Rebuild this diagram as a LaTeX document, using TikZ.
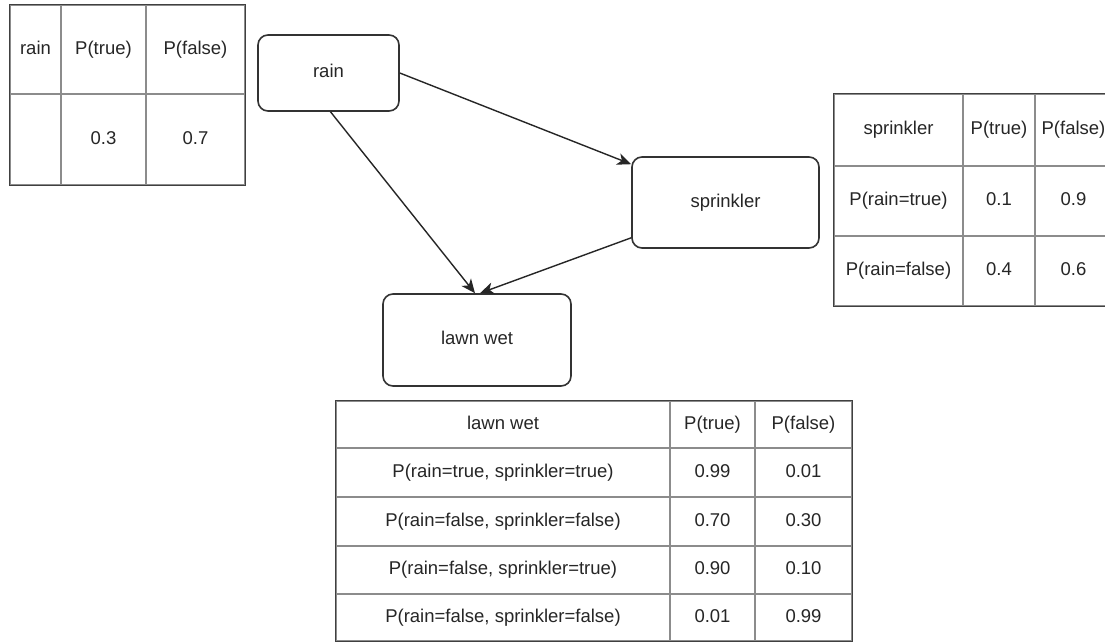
\documentclass[tikz,border=0pt]{standalone}
\usepackage{fontspec}
\setmainfont{Liberation Sans}
\usetikzlibrary{arrows.meta,calc}
\newcommand\tcell[6]{\node[cell, minimum width={#4-#2}, minimum height={#5-#3}] (#1) at ({(#2+#4)/2},{(#3+#5)/2}) {#6};}
\begin{document}
\begin{tikzpicture}[x=1pt,y=-1pt,
  every node/.style={font=\fontsize{18.5}{22}\selectfont, text=black!85, text height=13.5pt, text depth=4pt},
  vbox/.style={draw=black!80, line width=1.6pt, rounded corners=10pt, inner sep=0pt, fill=white},
  cell/.style={draw=black!45, line width=1.2pt, inner sep=0pt},
  frame/.style={draw=black!75, line width=1.6pt},
  conn/.style={draw=black!85, line width=1.4pt, -{Stealth[length=14pt,width=12pt,inset=4pt]}}]
\clip (0,0) rectangle (1105,642);
\fill[white] (0,0) rectangle (1105,642);

% rain table
\tcell{r11}{10}{5}{61}{94}{rain}
\tcell{r12}{61}{5}{146}{94}{P(true)}
\tcell{r13}{146}{5}{245}{94}{P(false)}
\tcell{r21}{10}{94}{61}{185}{}
\tcell{r22}{61}{94}{146}{185}{0.3}
\tcell{r23}{146}{94}{245}{185}{0.7}
\draw[frame] (r11.north west) rectangle (r23.south east);

% sprinkler table
\tcell{s11}{834}{94}{963}{166}{sprinkler}
\tcell{s12}{963}{94}{1035}{166}{P(true)}
\tcell{s13}{1035}{94}{1112}{166}{P(false)}
\tcell{s21}{834}{166}{963}{236}{P(rain=true)}
\tcell{s22}{963}{166}{1035}{236}{0.1}
\tcell{s23}{1035}{166}{1112}{236}{0.9}
\tcell{s31}{834}{236}{963}{306}{P(rain=false)}
\tcell{s32}{963}{236}{1035}{306}{0.4}
\tcell{s33}{1035}{236}{1112}{306}{0.6}
\draw[frame] (s11.north west) rectangle (s33.south east);

% lawn wet table
\tcell{l11}{336}{401}{670}{448}{lawn wet}
\tcell{l12}{670}{401}{755}{448}{P(true)}
\tcell{l13}{755}{401}{852}{448}{P(false)}
\tcell{l21}{336}{448}{670}{497}{P(rain=true, sprinkler=true)}
\tcell{l22}{670}{448}{755}{497}{0.99}
\tcell{l23}{755}{448}{852}{497}{0.01}
\tcell{l31}{336}{497}{670}{546}{P(rain=false, sprinkler=false)}
\tcell{l32}{670}{497}{755}{546}{0.70}
\tcell{l33}{755}{497}{852}{546}{0.30}
\tcell{l41}{336}{546}{670}{594}{P(rain=false, sprinkler=true)}
\tcell{l42}{670}{546}{755}{594}{0.90}
\tcell{l43}{755}{546}{852}{594}{0.10}
\tcell{l51}{336}{594}{670}{641}{P(rain=false, sprinkler=false)}
\tcell{l52}{670}{594}{755}{641}{0.01}
\tcell{l53}{755}{594}{852}{641}{0.99}
\draw[frame] (l11.north west) rectangle (l53.south east);

% graph nodes
\node[vbox, minimum width=141, minimum height=76] (rain) at (328.5,73) {rain};
\node[vbox, minimum width=187, minimum height=91] (sprinkler) at (725.5,202.5) {sprinkler};
\node[vbox, minimum width=188, minimum height=92] (lawn) at (477,340) {lawn wet};

% connectors
\draw[conn] (rain.east) -- ($(sprinkler.north west)+(0,8)$);
\draw[conn] ($(rain.south)+(2,0)$) -- ($(lawn.north)+(-2,0)$);
\draw[conn] ($(sprinkler.south west)+(0,-11)$) -- ($(lawn.north)+(3,0)$);
\end{tikzpicture}
\end{document}
